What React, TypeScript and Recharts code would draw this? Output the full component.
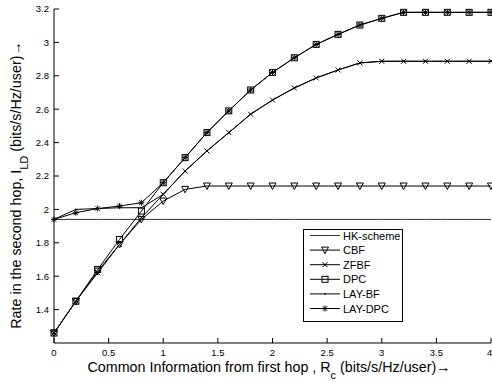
import { LineChart, Line, XAxis, YAxis, Legend, Label } from 'recharts';

const FONT = '"Liberation Sans", Arial, Helvetica, sans-serif';

// common information R_c (bits/s/Hz/user)
const rc = [0, 0.2, 0.4, 0.6, 0.8, 1.0, 1.2, 1.4, 1.6, 1.8, 2.0, 2.2, 2.4, 2.6, 2.8, 3.0, 3.2, 3.4, 3.6, 3.8, 4.0];

const hkScheme = [1.94, 1.94, 1.94, 1.94, 1.94, 1.94, 1.94, 1.94, 1.94, 1.94, 1.94, 1.94, 1.94, 1.94, 1.94, 1.94, 1.94, 1.94, 1.94, 1.94, 1.94];
const cbf = [1.26, 1.45, 1.63, 1.79, 1.94, 2.05, 2.12, 2.14, 2.14, 2.14, 2.14, 2.14, 2.14, 2.14, 2.14, 2.14, 2.14, 2.14, 2.14, 2.14, 2.14];
const zfbf = [1.26, 1.45, 1.62, 1.79, 1.95, 2.09, 2.23, 2.35, 2.46, 2.57, 2.655, 2.727, 2.787, 2.835, 2.877, 2.887, 2.887, 2.887, 2.887, 2.887, 2.887];
const dpc = [1.26, 1.45, 1.64, 1.82, 1.99, 2.16, 2.31, 2.46, 2.59, 2.715, 2.82, 2.908, 2.988, 3.048, 3.104, 3.144, 3.18, 3.18, 3.18, 3.18, 3.18];
const layBf = [1.94, 2.0, 2.005, 2.01, 2.01, 2.09, 2.23, 2.35, 2.46, 2.57, 2.655, 2.727, 2.787, 2.835, 2.877, 2.887, 2.887, 2.887, 2.887, 2.887, 2.887];
const layDpc = [1.94, 1.98, 2.005, 2.02, 2.04, 2.16, 2.31, 2.46, 2.59, 2.715, 2.82, 2.908, 2.988, 3.048, 3.104, 3.144, 3.18, 3.18, 3.18, 3.18, 3.18];

const xTicks = [0, 0.5, 1, 1.5, 2, 2.5, 3, 3.5, 4];
const yTicks = [1.4, 1.6, 1.8, 2, 2.2, 2.4, 2.6, 2.8, 3, 3.2];

const data = rc.map((r, i) => ({
  rc: r,
  hk: hkScheme[i],
  cbf: cbf[i],
  zfbf: zfbf[i],
  dpc: dpc[i],
  layBf: layBf[i],
  layDpc: layDpc[i],
}));

type Shape = 'none' | 'tri' | 'x' | 'square' | 'point' | 'star';

const series: { key: string; name: string; shape: Shape; color: string }[] = [
  { key: 'hk', name: 'HK-scheme', shape: 'none', color: '#333' },
  { key: 'cbf', name: 'CBF', shape: 'tri', color: '#000' },
  { key: 'zfbf', name: 'ZFBF', shape: 'x', color: '#000' },
  { key: 'dpc', name: 'DPC', shape: 'square', color: '#000' },
  { key: 'layBf', name: 'LAY-BF', shape: 'point', color: '#000' },
  { key: 'layDpc', name: 'LAY-DPC', shape: 'star', color: '#000' },
];

function Marker({ shape, cx, cy }: { shape: Shape; cx: number; cy: number }) {
  if (cx == null || cy == null || shape === 'none') return <g />;
  const s = { stroke: '#000', strokeWidth: 1, fill: 'none' };
  switch (shape) {
    case 'tri':
      return <polygon points={`${cx - 3.5},${cy - 3} ${cx + 3.5},${cy - 3} ${cx},${cy + 3.5}`} {...s} />;
    case 'x':
      return (
        <g {...s}>
          <line x1={cx - 2.5} y1={cy - 2.5} x2={cx + 2.5} y2={cy + 2.5} />
          <line x1={cx - 2.5} y1={cy + 2.5} x2={cx + 2.5} y2={cy - 2.5} />
        </g>
      );
    case 'square':
      return <rect x={cx - 3} y={cy - 3} width={6} height={6} {...s} />;
    case 'point':
      return <circle cx={cx} cy={cy} r={0.8} fill="#000" />;
    case 'star':
      return (
        <g {...s}>
          <line x1={cx - 3} y1={cy} x2={cx + 3} y2={cy} />
          <line x1={cx} y1={cy - 3} x2={cx} y2={cy + 3} />
          <line x1={cx - 2.2} y1={cy - 2.2} x2={cx + 2.2} y2={cy + 2.2} />
          <line x1={cx - 2.2} y1={cy + 2.2} x2={cx + 2.2} y2={cy - 2.2} />
        </g>
      );
    default:
      return <g />;
  }
}

function LegendBox() {
  return (
    <svg width={100} height={93} style={{ display: 'block' }}>
      <rect x={0.5} y={0.5} width={99} height={92} fill="#fff" stroke="#000" />
      {series.map((s, i) => {
        const y = 6.5 + i * 14.6;
        return (
          <g key={s.key}>
            <line x1={7} x2={37} y1={y} y2={y} stroke={s.color} strokeWidth={1} />
            <Marker shape={s.shape} cx={22} cy={y} />
            <text x={40} y={y + 4} fontSize={11} fontFamily={FONT} fill="#000">
              {s.name}
            </text>
          </g>
        );
      })}
    </svg>
  );
}

const tickStyle = { fontSize: 9.5, fill: '#000', fontFamily: FONT };

export default function App() {
  return (
    <div style={{ position: 'absolute', left: 0, top: 0, background: '#fff' }}>
      <LineChart width={492} height={382} data={data} margin={{ top: 9, right: 1, bottom: 9, left: 14 }}>
        <XAxis
          dataKey="rc"
          type="number"
          domain={[0, 4]}
          ticks={xTicks}
          tick={tickStyle}
          tickSize={-5}
          tickMargin={11}
          height={30}
          axisLine={{ stroke: '#000' }}
          tickLine={{ stroke: '#000' }}
          tickFormatter={(v: number) => String(v)}
        >
          <Label
            content={() => (
              <text x={269} y={372} textAnchor="middle" fontSize={14.3} fontFamily={FONT} fill="#000">
                Common Information from first hop , R
                <tspan dy={7} fontSize={11}>c</tspan>
                <tspan dy={-7}> (bits/s/Hz/user)→</tspan>
              </text>
            )}
          />
        </XAxis>
        <XAxis
          xAxisId="top"
          orientation="top"
          dataKey="rc"
          type="number"
          domain={[0, 4]}
          ticks={xTicks}
          height={0}
          tickSize={-5}
          tickFormatter={() => ''}
          axisLine={{ stroke: '#000' }}
          tickLine={{ stroke: '#000' }}
        />
        <YAxis
          type="number"
          domain={[1.2, 3.2]}
          ticks={yTicks}
          tick={tickStyle}
          tickSize={-5}
          tickMargin={10}
          width={40}
          axisLine={{ stroke: '#000' }}
          tickLine={{ stroke: '#000' }}
          tickFormatter={(v: number) => String(v)}
        >
          <Label
            content={() => (
              <text x={21} y={185} transform="rotate(-90, 21, 185)" textAnchor="middle" fontSize={14.3} fontFamily={FONT} fill="#000">
                Rate in the second hop, I
                <tspan dy={7} fontSize={11}>LD</tspan>
                <tspan dy={-7}> (bits/s/Hz/user)→</tspan>
              </text>
            )}
          />
        </YAxis>
        <YAxis
          yAxisId="right"
          orientation="right"
          type="number"
          domain={[1.2, 3.2]}
          ticks={yTicks}
          width={0}
          tickSize={-5}
          tickFormatter={() => ''}
          axisLine={{ stroke: '#000' }}
          tickLine={{ stroke: '#000' }}
        />
        {series.map((s) => (
          <Line
            key={s.key}
            type="linear"
            dataKey={s.key}
            name={s.name}
            stroke={s.color}
            strokeWidth={1}
            isAnimationActive={false}
            activeDot={false}
            dot={
              s.shape === 'none'
                ? false
                : (props: any) => <Marker key={`${s.key}-${props.index}`} shape={s.shape} cx={props.cx} cy={props.cy} />
            }
          />
        ))}
        <Legend
          layout="horizontal"
          verticalAlign="middle"
          content={() => <LegendBox />}
          wrapperStyle={{ left: 303, top: 229, width: 100, height: 93 }}
        />
      </LineChart>
    </div>
  );
}
